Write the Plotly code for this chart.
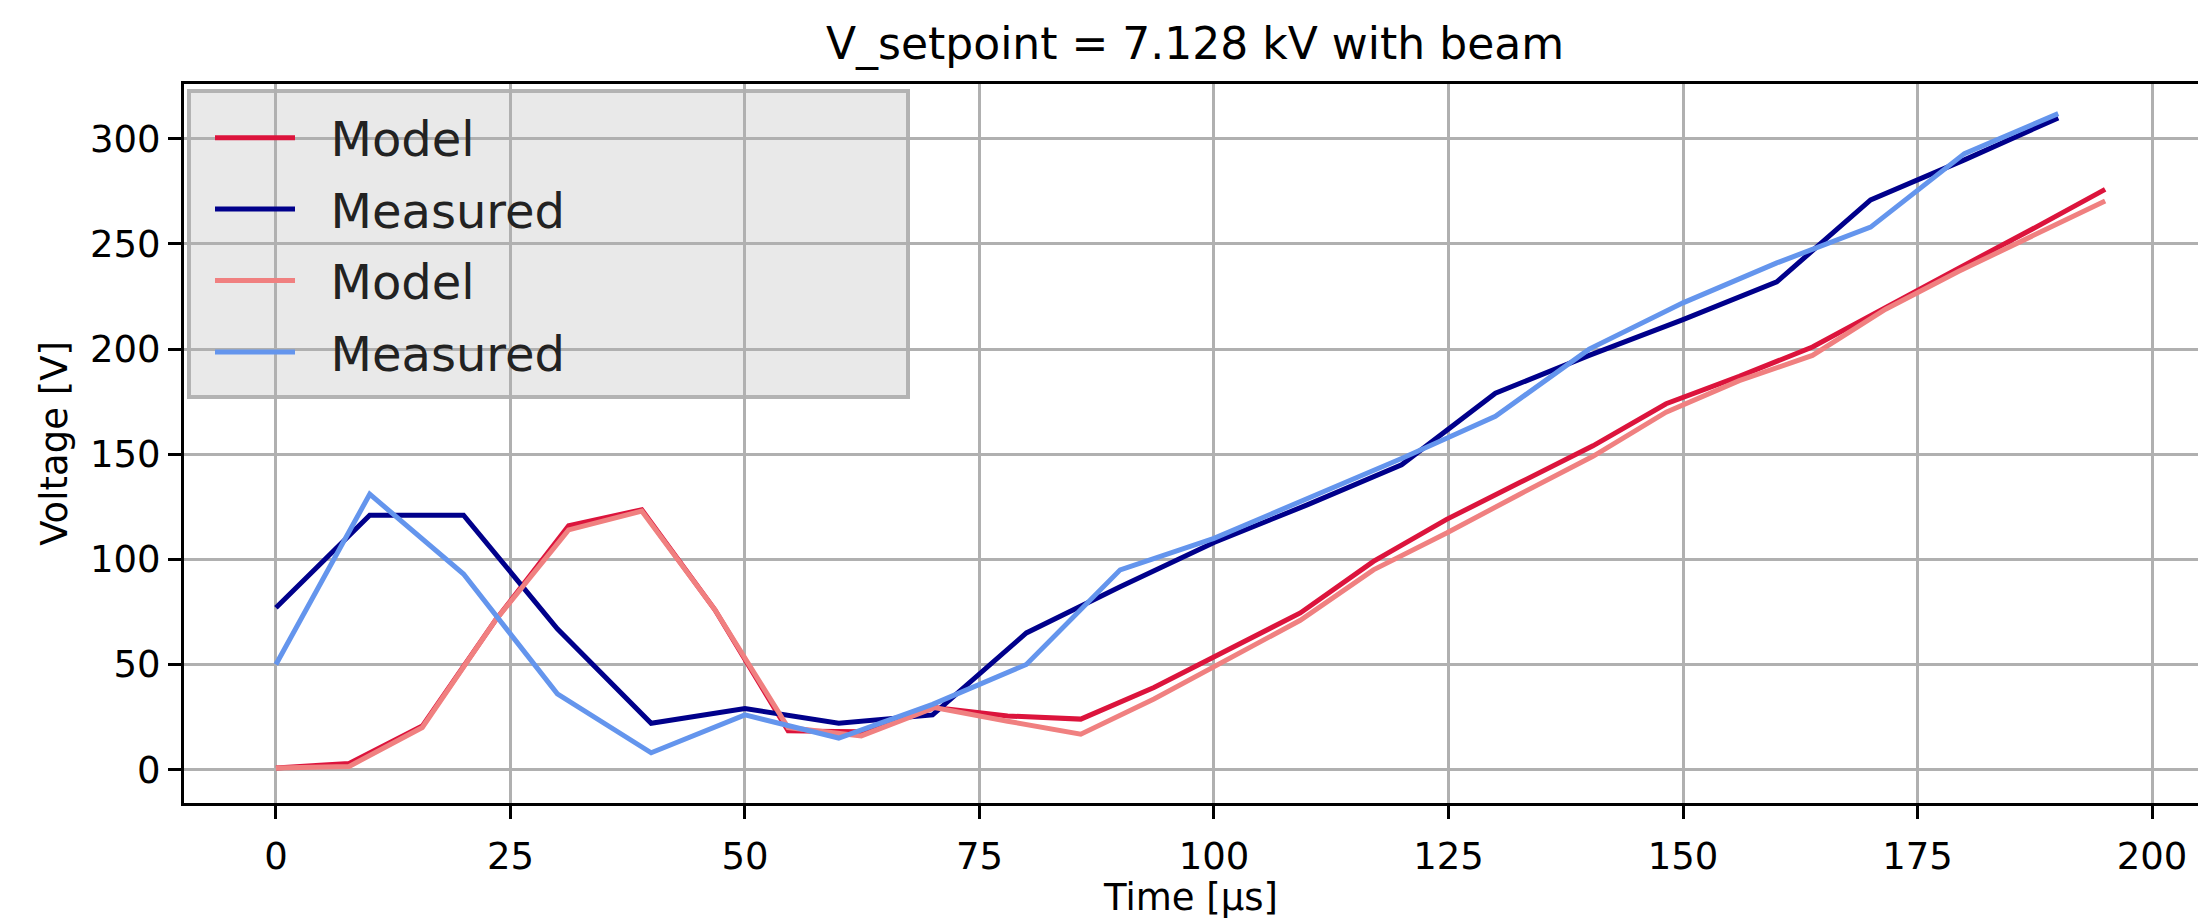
import plotly.graph_objects as go

# ---- data ----
t_model = [0.0, 7.8, 15.6, 23.4, 31.2, 39.0, 46.8, 54.6, 62.4, 70.2, 78.0, 85.8, 93.6,
           101.4, 109.2, 117.0, 124.8, 132.6, 140.4, 148.2, 156.0, 163.8, 171.6, 179.4, 187.2, 195.0]
model_a = [0.8, 2.9, 20.7, 71, 116, 123.6, 76, 18.4, 18, 29.5, 25.5, 24, 39,
           56.5, 74.5, 99, 119, 136.5, 154, 174, 187, 201, 220, 238.5, 257, 276]
model_b = [0.8, 1.5, 20, 71, 114, 123, 76, 20, 16, 29.5, 23, 16.8, 33.6,
           52, 71, 95, 112.5, 131, 149, 170, 185, 197, 219, 237, 254, 270.5]

t_meas = [0, 10, 20, 30, 40, 50, 60, 70, 80, 90, 100, 110, 120, 130, 140, 150, 160, 170, 180, 190]
meas_a = [77, 121, 121, 67, 22, 29, 22, 26, 65, 87, 108, 126, 145, 179, 197, 214, 232, 271, 290, 310]
meas_b = [50, 131, 93, 36, 8, 26, 15, 31, 50, 95, 110, 129, 148, 168, 200, 222, 241, 258, 293, 312]

x_ticks = [0, 25, 50, 75, 100, 125, 150, 175, 200]
y_ticks = [0, 50, 100, 150, 200, 250, 300]

series = [
    ("Model", t_model, model_a, "#DC143C"),
    ("Measured", t_meas, meas_a, "#00008B"),
    ("Model", t_model, model_b, "#F08080"),
    ("Measured", t_meas, meas_b, "#6495ED"),
]

W, H = 2198, 919
L, R, T, B = 184, 0, 84, 116
FONT = "DejaVu Sans"
GAP = "\u00a0\u00a0"  # spacing between legend handle and label

fig = go.Figure()
for i, (name, x, y, c) in enumerate(series):
    fig.add_trace(go.Scatter(x=x, y=y, mode="lines", name=GAP + name,
                             legendgroup=f"g{i}",
                             line=dict(color=c, width=5)))

pw = W - L - R
ph = H - T - B

def px2x(px):
    return (px - L) / pw

def px2y(py):
    return 1 - (py - T) / ph

# legend frame (matplotlib-like box)
fig.add_shape(type="rect", xref="paper", yref="paper",
              x0=px2x(189), x1=px2x(908), y0=px2y(397), y1=px2y(91),
              fillcolor="#e9e9e9", line=dict(color="#b3b3b3", width=4),
              layer="between")

axis_common = dict(
    showgrid=True, gridcolor="#b0b0b0", gridwidth=2.5,
    zeroline=False, showline=True, linecolor="black", linewidth=3,
    ticks="outside", ticklen=13, tickwidth=3, tickcolor="black",
    tickfont=dict(family=FONT, size=37, color="black"),
)

fig.update_layout(
    width=W, height=H, autosize=False,
    margin=dict(l=L, r=R, t=T, b=B, pad=0),
    paper_bgcolor="white", plot_bgcolor="white",
    font=dict(family=FONT, color="black"),
    title=dict(text="V_setpoint = 7.128 kV with beam",
               font=dict(family=FONT, size=44, color="black"),
               xref="container", x=1195 / W, xanchor="center",
               yref="container", y=1 - 44 / H, yanchor="middle"),
    xaxis=dict(range=[-9.8, 204.9], tickvals=x_ticks, mirror=True,
               title=dict(text="Time [µs]", font=dict(family=FONT, size=37, color="black"),
                          standoff=10),
               ticklabelstandoff=6,
               **axis_common),
    yaxis=dict(range=[-15.9, 326.1], tickvals=y_ticks, mirror=False,
               title=dict(text="Voltage [V]", font=dict(family=FONT, size=37, color="black"),
                          standoff=12),
               ticklabelstandoff=0,
               **axis_common),
    legend=dict(x=px2x(210), y=px2y(100), xanchor="left", yanchor="top",
                bgcolor="rgba(0,0,0,0)", borderwidth=0,
                font=dict(family=FONT, size=48, color="#222222"),
                itemwidth=80, tracegroupgap=6),
    showlegend=True,
)

fig.write_html("out.html")
